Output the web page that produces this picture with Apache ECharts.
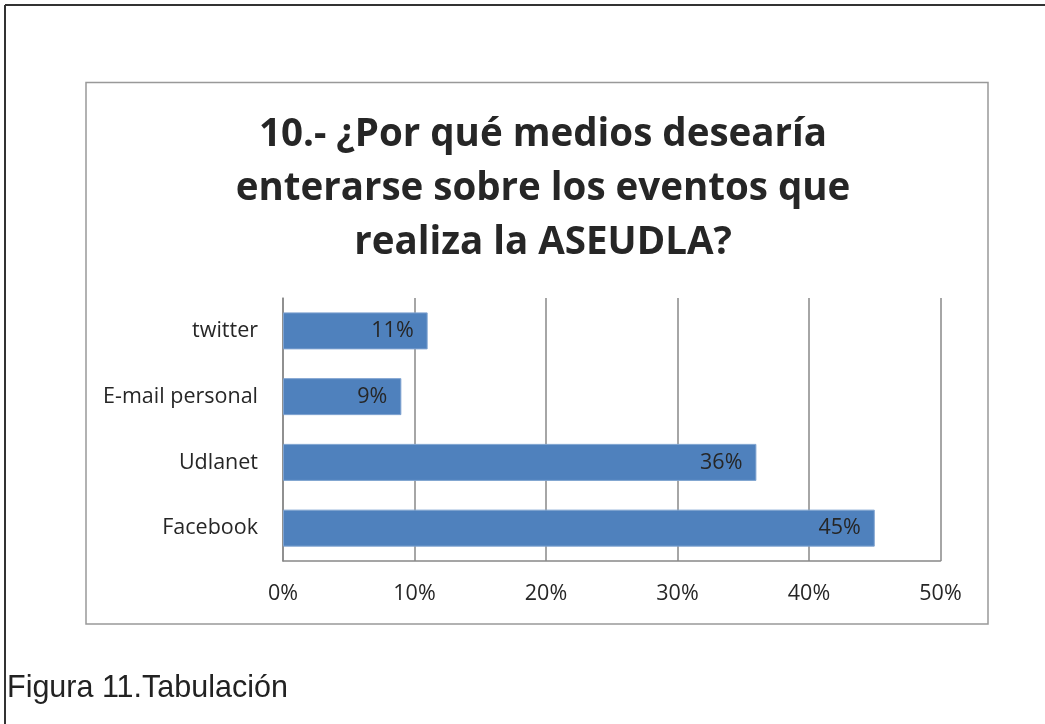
<!DOCTYPE html>
<html><head><meta charset="utf-8">
<script src="https://cdn.jsdelivr.net/npm/echarts@6/dist/echarts.min.js"></script>
<style>html,body{margin:0;padding:0;background:#fff}#c{width:1045px;height:724px}</style>
</head><body><div id="c"></div>
<script>
const categories = ['Facebook', 'Udlanet', 'E-mail personal', 'twitter'];
const values = [45, 36, 9, 11];
const tickMin = 0, tickMax = 50, tickStep = 10;
const titleText = '10.- ¿Por qué medios desearía\nenterarse sobre los eventos que\nrealiza la ASEUDLA?';
const captionText = 'Figura 11.Tabulación';

const chart = echarts.init(document.getElementById('c'), null, {renderer: 'canvas'});
chart.setOption({
  animation: false,
  backgroundColor: '#fff',
  title: {
    text: titleText,
    left: 538, top: 103, textAlign: 'center',
    textStyle: {fontFamily: 'Open Sans', fontWeight: 'bold', fontSize: 38.5, lineHeight: 54, color: '#262626'}
  },
  grid: {left: 283, right: 104.5, top: 298, bottom: 163, containLabel: false},
  xAxis: {
    type: 'value', min: tickMin, max: tickMax, interval: tickStep,
    axisLine: {show: true, lineStyle: {color: '#888', width: 1.5}},
    axisTick: {show: false},
    splitLine: {show: true, lineStyle: {color: '#888', width: 1.5}},
    axisLabel: {formatter: '{value}%', fontFamily: 'Open Sans', fontSize: 21.5, color: '#262626', margin: 22}
  },
  yAxis: {
    type: 'category', data: categories,
    axisLine: {show: true, lineStyle: {color: '#888', width: 1.5}},
    axisTick: {show: false},
    axisLabel: {fontFamily: 'Open Sans', fontSize: 21.5, color: '#262626', margin: 25}
  },
  series: [{
    type: 'bar', data: values, barWidth: 37,
    itemStyle: {color: '#4F81BD', borderColor: '#7FA3D0', borderWidth: 1},
    label: {show: true, position: 'insideRight', distance: 14, formatter: '{c}%', fontFamily: 'Open Sans', fontSize: 21.5, color: '#262626'}
  }],
  graphic: [
    {type: 'line', shape: {x1: 5, y1: 5, x2: 1045, y2: 5}, style: {stroke: '#333', lineWidth: 2}},
    {type: 'line', shape: {x1: 5, y1: 5, x2: 5, y2: 724}, style: {stroke: '#333', lineWidth: 2}},
    {type: 'rect', shape: {x: 86, y: 82.5, width: 902, height: 541.5}, style: {fill: 'none', stroke: '#999', lineWidth: 1.5}, z: -1},
    {type: 'text', left: 7, top: 673, style: {text: captionText, font: '30.5px "Liberation Sans", Arial', fill: '#222'}}
  ]
});
</script></body></html>
